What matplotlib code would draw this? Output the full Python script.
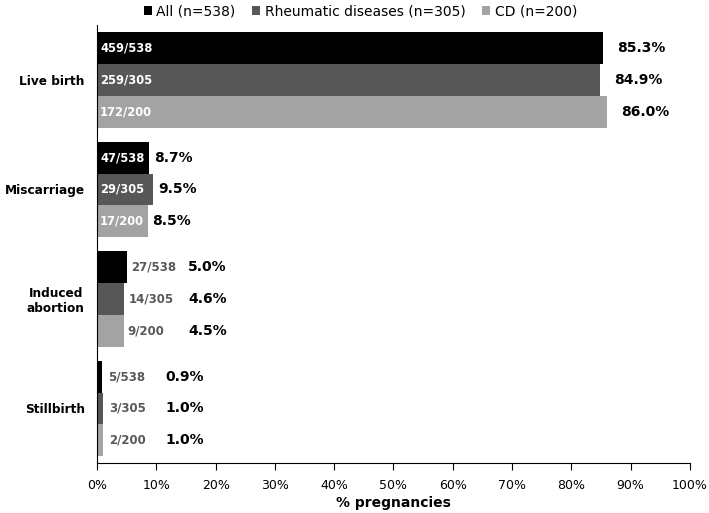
import numpy as np
import matplotlib.pyplot as plt

categories = ["Live birth", "Miscarriage", "Induced\nabortion", "Stillbirth"]
series = ["All (n=538)", "Rheumatic diseases (n=305)", "CD (n=200)"]
pct = [
    [85.3, 8.7, 5.0, 0.9],
    [84.9, 9.5, 4.6, 1.0],
    [86.0, 8.5, 4.5, 1.0],
]
counts = [
    ["459/538", "47/538", "27/538", "5/538"],
    ["259/305", "29/305", "14/305", "3/305"],
    ["172/200", "17/200", "9/200", "2/200"],
]
colors = ["#000000", "#575757", "#a3a3a3"]

fig, ax = plt.subplots(figsize=(7.09, 5.13), dpi=100)
fig.subplots_adjust(left=0.137, right=0.973, top=0.951, bottom=0.097)

y = np.arange(len(categories))
h = 0.29
for i in range(3):
    ypos = y + (i - 1) * h
    ax.barh(ypos, pct[i], height=h, color=colors[i], label=series[i])
    for j in range(len(categories)):
        v = pct[i][j]
        if j < 2:
            ax.annotate(counts[i][j], (0, ypos[j]), xytext=(3, 0), textcoords="offset pixels",
                        ha="left", va="center", color="white", fontweight="bold", fontsize=8.3)
            ax.annotate(f"{v:.1f}%", (v, ypos[j]), xytext=(14 if j == 0 else 5, 0),
                        textcoords="offset pixels", ha="left", va="center",
                        fontweight="bold", fontsize=10)
        else:
            ax.annotate(counts[i][j], (v, ypos[j]), xytext=(4 if j == 2 else 6, 0),
                        textcoords="offset pixels", ha="left", va="center",
                        color="#595959", fontweight="bold", fontsize=8.5)
            ax.annotate(f"{v:.1f}%", (0, ypos[j]), xytext=(91 if j == 2 else 68, 0),
                        textcoords="offset pixels", ha="left", va="center",
                        fontweight="bold", fontsize=10)

ax.set_ylim(3.5, -0.5)
ax.set_xlim(0, 100)
ax.set_xticks(np.arange(0, 101, 10))
ax.set_xticklabels([f"{t}%" for t in range(0, 101, 10)], fontsize=9)
ax.set_yticks(y)
ax.set_yticklabels(categories, fontweight="bold", fontsize=8.7)
for lab in ax.get_yticklabels():
    lab.set_multialignment("center")
ax.tick_params(axis="y", length=0, pad=9)
ax.tick_params(axis="x", length=5, direction="out", pad=6)
ax.set_xlabel("% pregnancies", fontweight="bold", fontsize=10, labelpad=3)
for s in ["top", "right"]:
    ax.spines[s].set_visible(False)

ax.legend(loc="upper center", bbox_to_anchor=(0.444, 1.075), ncol=3, frameon=False,
          handlelength=0.6, handleheight=0.6, handletextpad=0.3, columnspacing=1.2,
          fontsize=10)

fig.savefig("out.png", dpi=100)
